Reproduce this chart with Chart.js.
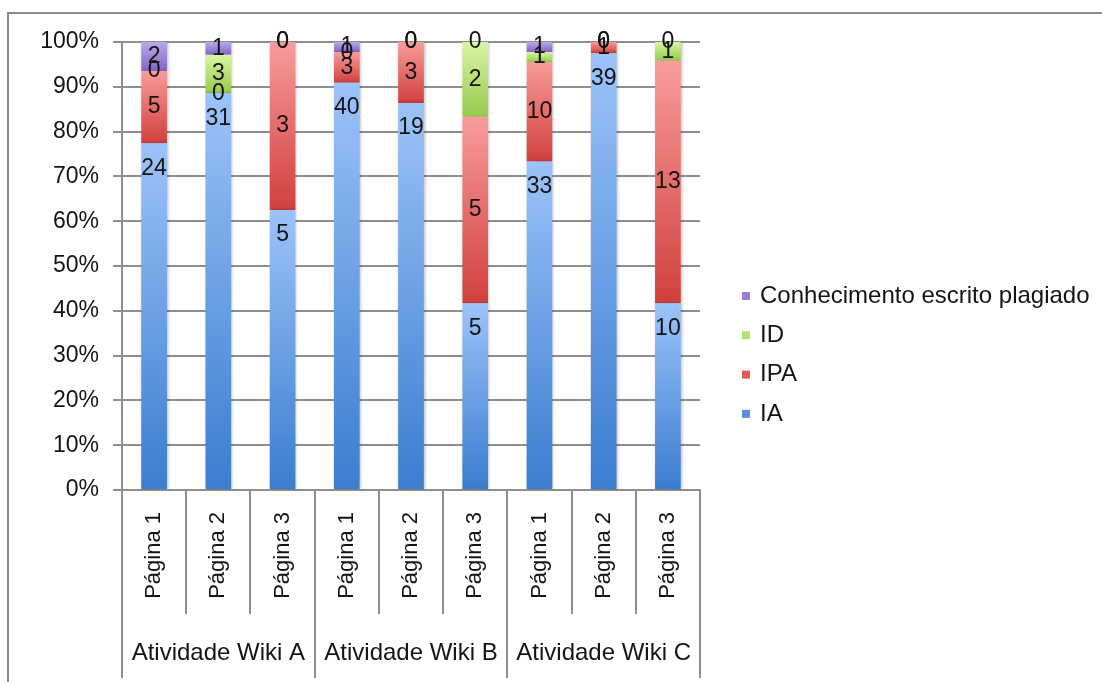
<!DOCTYPE html>
<html lang="pt">
<head>
<meta charset="utf-8">
<title>Atividades Wiki</title>
<script src="https://cdn.jsdelivr.net/npm/chart.js@4.4.1/dist/chart.umd.min.js"></script>
<style>
  html, body { margin: 0; padding: 0; background: #fff; }
  #wrap { position: relative; width: 1102px; height: 682px; }
</style>
</head>
<body>
<div id="wrap"><canvas id="chart"></canvas></div>
<script>
// pages inside each wiki activity
const paginas    = ['Página 1', 'Página 2', 'Página 3',
                    'Página 1', 'Página 2', 'Página 3',
                    'Página 1', 'Página 2', 'Página 3'];
const atividades = ['Atividade Wiki A', 'Atividade Wiki B', 'Atividade Wiki C'];

// counts per page
const ia       = [24, 31, 5, 40, 19, 5, 33, 39, 10];
const ipa      = [5, 0, 3, 3, 3, 5, 10, 1, 13];
const id       = [0, 3, 0, 0, 0, 2, 1, 0, 1];
const plagiado = [2, 1, 0, 1, 0, 0, 1, 0, 0];

const FONT = "'Liberation Sans', Arial, Helvetica, sans-serif";
const GRID = '#8e8e8e';
const TEXT = '#141414';

// 100% stacked: each page is shown as share of its own total
const totals = paginas.map((_, i) => ia[i] + ipa[i] + id[i] + plagiado[i]);
const share = arr => arr.map((v, i) => v / totals[i] * 100);

// vertical gradient per segment, light on top, darker at the base
function segmentFill(light, dark) {
    return function(ctx) {
        const chart = ctx.chart;
        const y = chart.scales.y;
        if (!chart.chartArea || !y || ctx.type !== 'data') return dark;
        const i = ctx.dataIndex, d = ctx.datasetIndex;
        let lo = 0;
        for (let k = 0; k < d; k++) lo += chart.data.datasets[k].data[i];
        const hi = lo + chart.data.datasets[d].data[i];
        const y0 = y.getPixelForValue(lo), y1 = y.getPixelForValue(hi);
        if (!isFinite(y0) || !isFinite(y1) || y0 === y1) return dark;
        const g = chart.ctx.createLinearGradient(0, y1, 0, y0);
        g.addColorStop(0, light);
        g.addColorStop(1, dark);
        return g;
    };
}

// outer frame of the figure
const frame = {
    id: 'frame',
    beforeDraw(chart){
        const c = chart.ctx;
        c.save();
        c.strokeStyle = '#8a8a8a';
        c.lineWidth = 2;
        c.beginPath();
        c.moveTo(chart.width, 13);
        c.lineTo(8, 13);
        c.lineTo(8, chart.height);
        c.stroke();
        c.restore();
    }
};

// counts written on the segments
const valueLabels = {
    id: 'valueLabels',
    beforeDatasetsDraw(chart){
        const c = chart.ctx;
        c.save();
        c.shadowColor = 'rgba(0,0,0,0.28)';
        c.shadowBlur = 3;
        c.shadowOffsetX = 1;
    },
    afterDatasetsDraw(chart){
        const c = chart.ctx;
        c.restore();
        c.save();
        c.font = '23px ' + FONT;
        c.fillStyle = TEXT;
        c.textAlign = 'center';
        c.textBaseline = 'middle';
        chart.data.datasets.forEach((ds, d) => {
            chart.getDatasetMeta(d).data.forEach((bar, i) => {
                const p = bar.getProps(['x', 'y', 'base'], true);
                const ty = ds.labelAnchor === 'end' ? p.y + 25 : (p.y + p.base) / 2;
                c.fillText(String(ds.counts[i]), p.x, ty);
            });
        });
        c.restore();
    }
};

// category dividers, activity names and the legend
const categoryFrame = {
    id: 'categoryFrame',
    afterDraw(chart){
        const c = chart.ctx;
        const x = chart.scales.x;
        const area = chart.chartArea;
        const n = paginas.length;
        c.save();
        c.strokeStyle = GRID;
        c.lineWidth = 2;
        for (let k = 0; k <= n; k++) {
            const px = Math.round(x.getPixelForValue(k - 0.5));
            const end = k % 3 === 0 ? area.bottom + 188 : area.bottom + 124;
            c.beginPath();
            c.moveTo(px, area.bottom);
            c.lineTo(px, end);
            c.stroke();
        }

        c.font = '24px ' + FONT;
        c.fillStyle = TEXT;
        c.textAlign = 'center';
        c.textBaseline = 'middle';
        atividades.forEach((name, g) => {
            const l = x.getPixelForValue(g * 3 - 0.5);
            const r = x.getPixelForValue(g * 3 + 2.5);
            c.fillText(name, (l + r) / 2, area.bottom + 163);
        });

        // legend, top series first
        c.textAlign = 'left';
        const ds = chart.data.datasets.slice().reverse();
        ds.forEach((s, i) => {
            const cy = 296 + i * 39.3;
            c.fillStyle = s.legendColor;
            c.fillRect(area.right + 42, cy - 4, 8, 8);
            c.fillStyle = TEXT;
            c.fillText(s.label, area.right + 60, cy);
        });
        c.restore();
    }
};

const ctx = document.getElementById('chart').getContext('2d');
const chart = new Chart(ctx, {
    type: 'bar',
    data: {
        labels: paginas,
        datasets: [
            { label: 'IA', data: share(ia), counts: ia, labelAnchor: 'end',
              backgroundColor: segmentFill('#9cc3fa', '#3a7dd0'), legendColor: '#5591df' },
            { label: 'IPA', data: share(ipa), counts: ipa,
              backgroundColor: segmentFill('#f99c9a', '#d0403d'), legendColor: '#e0595a' },
            { label: 'ID', data: share(id), counts: id,
              backgroundColor: segmentFill('#d8f6a4', '#97c94e'), legendColor: '#b4df72' },
            { label: 'Conhecimento escrito plagiado', data: share(plagiado), counts: plagiado,
              backgroundColor: segmentFill('#bba8e8', '#8264c6'), legendColor: '#9a7fd8' }
        ]
    },
    options: {
        responsive: true,
        maintainAspectRatio: false,
        animation: false,
        layout: { padding: { left: 0, top: 42, right: 402, bottom: 0 } },
        datasets: {
            bar: { categoryPercentage: 1, barPercentage: 0.4, borderWidth: 0 }
        },
        plugins: {
            legend: { display: false },
            tooltip: { enabled: false }
        },
        scales: {
            x: {
                stacked: true,
                grid: { display: false, drawTicks: false },
                border: { color: GRID, width: 2 },
                ticks: {
                    minRotation: 90, maxRotation: 90, autoSkip: false,
                    padding: 22, color: TEXT,
                    font: { family: FONT, size: 22 }
                },
                afterFit(scale){ scale.height = 192; }
            },
            y: {
                stacked: true,
                min: 0,
                max: 100,
                ticks: {
                    stepSize: 10,
                    padding: 14,
                    color: TEXT,
                    font: { family: FONT, size: 23 },
                    callback: v => v + '%'
                },
                grid: { color: GRID, lineWidth: 2, tickLength: 9 },
                border: { color: GRID, width: 2 },
                afterFit(scale){ scale.width = 122; }
            }
        }
    },
    plugins: [frame, valueLabels, categoryFrame]
});
</script>
</body>
</html>
